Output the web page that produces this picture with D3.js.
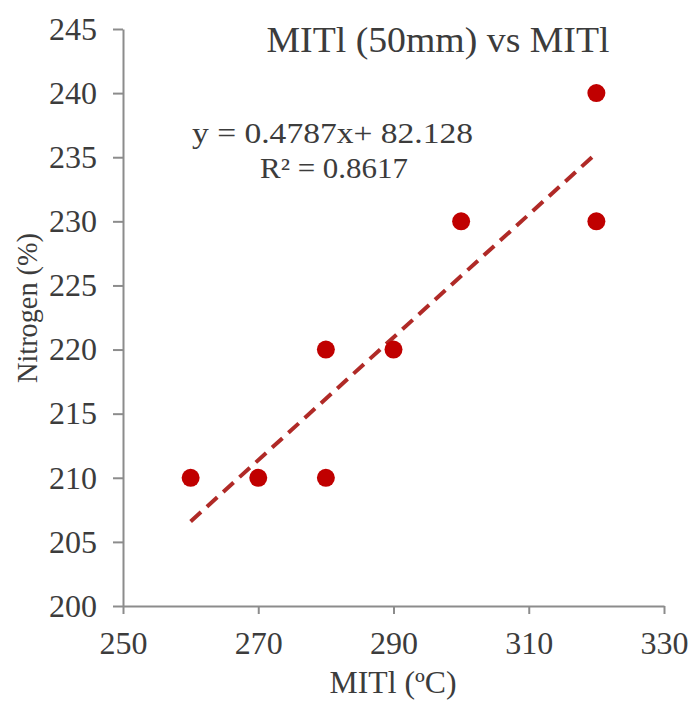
<!DOCTYPE html>
<html>
<head>
<meta charset="utf-8">
<script src="https://cdn.jsdelivr.net/npm/d3@7"></script>
<style>
  html, body { margin: 0; padding: 0; background: #fff; }
  svg { display: block; }
  text { font-family: "Liberation Serif", "DejaVu Serif", serif; fill: #3c3c3c; }
</style>
</head>
<body>
<script>
// Observations: MITl (ºC) against nitrogen (%)
const mitl = [260, 270, 280, 280, 290, 300, 320, 320];
const nitrogen = [210, 210, 210, 220, 220, 230, 240, 230];

// Linear trend reported for the series
const slope = 0.4787;
const intercept = 82.128;
const rSquared = 0.8617;

const xTicks = [250, 270, 290, 310, 330];
const yTicks = [200, 205, 210, 215, 220, 225, 230, 235, 240, 245];

const W = 696, H = 702;
const margin = { left: 123, right: 32, top: 29, bottom: 96 };

const svg = d3.select("body").append("svg")
  .attr("width", W).attr("height", H);

const x = d3.scaleLinear().domain([250, 330]).range([margin.left, W - margin.right]);
const y = d3.scaleLinear().domain([200, 245]).range([H - margin.bottom, margin.top]);

// Axes
const xAxis = svg.append("g")
  .attr("transform", `translate(0,${y(200)})`)
  .call(d3.axisBottom(x).tickValues(xTicks).tickSize(8).tickPadding(16).tickSizeOuter(0));
const yAxis = svg.append("g")
  .attr("transform", `translate(${x(250)},0)`)
  .call(d3.axisLeft(y).tickValues(yTicks).tickSize(10).tickPadding(16).tickSizeOuter(0));

[xAxis, yAxis].forEach(g => {
  g.select(".domain").attr("stroke", "#8c8c8c").attr("stroke-width", 2);
  g.selectAll(".tick line").attr("stroke", "#8c8c8c").attr("stroke-width", 2);
  g.selectAll(".tick text")
    .attr("font-size", 32)
    .attr("fill", "#3c3c3c");
});
xAxis.selectAll(".tick text").attr("dy", "0.75em");

// Trend line over the observed range
const [x0, x1] = d3.extent(mitl);
svg.append("line")
  .attr("x1", x(x0)).attr("y1", y(slope * x0 + intercept))
  .attr("x2", x(x1)).attr("y2", y(slope * x1 + intercept))
  .attr("stroke", "#b02a27")
  .attr("stroke-width", 4)
  .attr("stroke-dasharray", "14 8");

// Points
svg.append("g").selectAll("circle")
  .data(mitl.map((v, i) => [v, nitrogen[i]]))
  .join("circle")
  .attr("cx", d => x(d[0]))
  .attr("cy", d => y(d[1]))
  .attr("r", 9)
  .attr("fill", "#c00000");

// Title
svg.append("text")
  .attr("x", 438).attr("y", 52)
  .attr("text-anchor", "middle")
  .attr("font-size", 36)
  .attr("textLength", 343).attr("lengthAdjust", "spacingAndGlyphs")
  .text("MITl (50mm) vs MITl");

// Trend equation
svg.append("text")
  .attr("x", 192).attr("y", 143)
  .attr("font-size", 29)
  .attr("textLength", 281).attr("lengthAdjust", "spacingAndGlyphs")
  .text(`y = ${slope}x+ ${intercept}`);
svg.append("text")
  .attr("x", 260).attr("y", 178)
  .attr("font-size", 29)
  .attr("textLength", 148).attr("lengthAdjust", "spacingAndGlyphs")
  .text(`R² = ${rSquared}`);

// Axis titles
svg.append("text")
  .attr("x", 393).attr("y", 693)
  .attr("text-anchor", "middle")
  .attr("font-size", 31)
  .attr("textLength", 127).attr("lengthAdjust", "spacingAndGlyphs")
  .text("MITl (ºC)");
svg.append("text")
  .attr("transform", `translate(37,308) rotate(-90)`)
  .attr("text-anchor", "middle")
  .attr("font-size", 29)
  .attr("textLength", 150).attr("lengthAdjust", "spacingAndGlyphs")
  .text("Nitrogen (%)");
</script>
</body>
</html>
